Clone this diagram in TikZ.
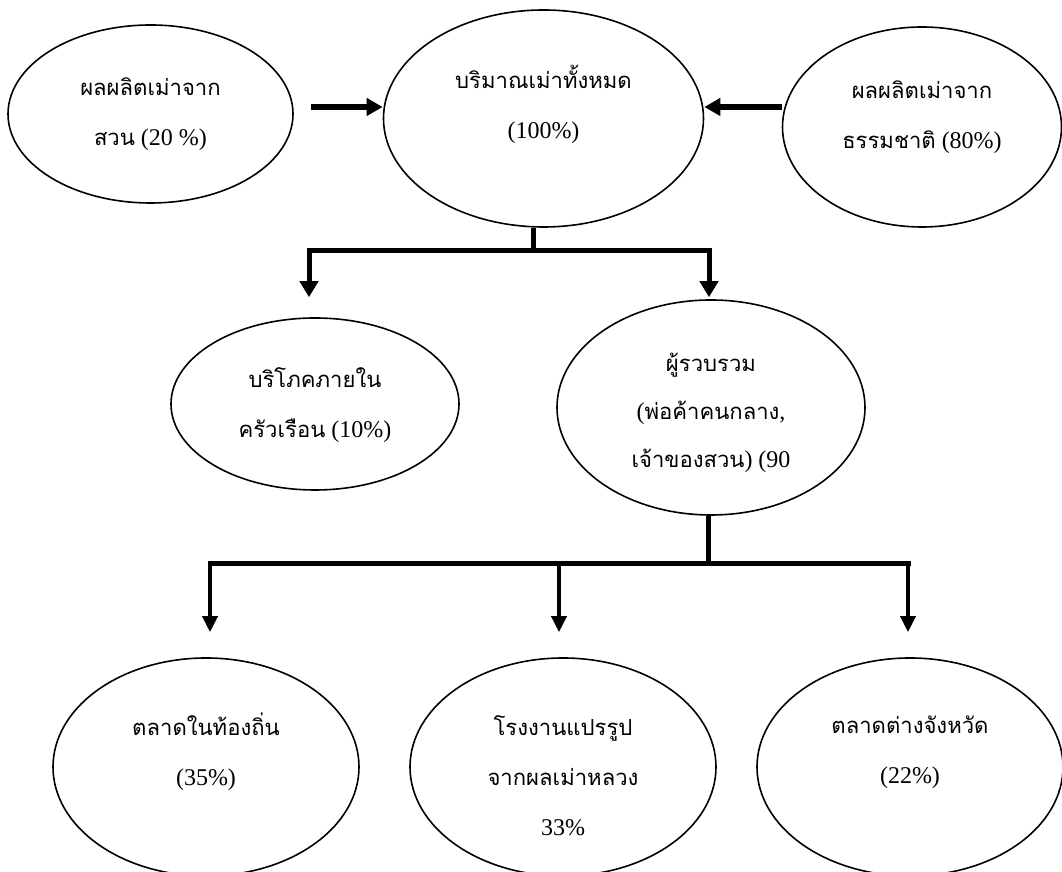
\documentclass[tikz,border=0pt]{standalone}
\usepackage{fontspec}
\setmainfont{Liberation Serif}
\newfontfamily\thaifont[Script=Thai,Scale=0.92]{Loma}
\usetikzlibrary{arrows.meta,shapes.geometric}

\begin{document}
\begin{tikzpicture}[x=0.5pt,y=0.5pt,
    main node/.style={ellipse,draw,line width=0.8pt,inner sep=0pt},
    top node/.style={main node,minimum width=#1},
    text node/.style={align=center,font=\fontsize{12}{25}\selectfont},
    bar/.style={line width=2.5pt,line join=miter},
    flow/.style={line width=3pt,-{Triangle[length=8pt,width=8.5pt]}},
    thin flow/.style={line width=1.8pt,-{Triangle[length=8pt,width=7.5pt]}}]
    \useasboundingbox (0,0) rectangle (1062,872);

    % sources and total
    \node[main node,minimum width=142.5pt,minimum height=89pt] (src1) at (150.5,758) {};
    \node[main node,minimum width=160pt,minimum height=108.5pt] (total) at (543.5,753.5) {};
    \node[main node,minimum width=139.5pt,minimum height=100pt] (src2) at (922,745) {};
    % second level
    \node[main node,minimum width=144pt,minimum height=86pt] (home) at (315,468) {};
    \node[main node,minimum width=154pt,minimum height=107.5pt] (coll) at (711,464.5) {};
    % markets
    \node[main node,minimum width=153pt,minimum height=109pt] (local) at (206,105) {};
    \node[main node,minimum width=153pt,minimum height=109pt] (factory) at (563,105) {};
    \node[main node,minimum width=153pt,minimum height=109pt] (prov) at (910,105) {};

    \node[text node] (src1txt) at (src1) {{\thaifont ผลผลิตเม่าจาก}\\{\thaifont สวน} (20 \%)};
    \node[text node] (totaltxt) at ([yshift=7pt]total) {{\thaifont บริมาณเม่าทั้งหมด}\\(100\%)};
    \node[text node] (src2txt) at ([yshift=5pt]src2) {{\thaifont ผลผลิตเม่าจาก}\\{\thaifont ธรรมชาติ} (80\%)};
    \node[text node] (hometxt) at ([yshift=-0.5pt]home) {{\thaifont บริโภคภายใน}\\{\thaifont ครัวเรือน} (10\%)};
    \node[text node,font=\fontsize{12}{24}\selectfont] (colltxt) at ([yshift=-2.5pt]coll) {{\thaifont ผู้รวบรวม}\\({\thaifont พ่อค้าคนกลาง},\\{\thaifont เจ้าของสวน}) (90};
    \node[text node] (localtxt) at ([yshift=7.5pt]local) {{\thaifont ตลาดในท้องถิ่น}\\(35\%)};
    \node[text node] (factorytxt) at ([yshift=-4.5pt]factory) {{\thaifont โรงงานแปรรูป}\\{\thaifont จากผลเม่าหลวง}\\33\%};
    \node[text node] (provtxt) at ([yshift=7.5pt]prov) {{\thaifont ตลาดต่างจังหวัด}\\(22\%)};

    % inflows
    \draw[flow] ([xshift=8.5pt,yshift=3.5pt]src1.east) coordinate (in1) -- (in1 -| total.west);
    \draw[flow] ([yshift=10pt]src2.west) coordinate (in2) -- (in2 -| total.east);

    % first split
    \draw[bar] ([xshift=-5pt]total.south) -- ++(0,-23) coordinate (fork1);
    \coordinate (inhome) at ([xshift=-3pt,yshift=10pt]home.north);
    \coordinate (incoll) at ([xshift=-1pt,yshift=1pt]coll.north);
    \draw[bar,{Triangle[length=8pt,width=9pt]}-{Triangle[length=8pt,width=9pt]}] (inhome) |- (fork1) -| (incoll);

    % second split
    \draw[bar] ([xshift=-1.5pt]coll.south) -- ++(0,-48) coordinate (fork2);
    \foreach \n/\dx in {local/2pt,factory/-2pt,prov/-1pt}
        \coordinate (in\n) at ([xshift=\dx,yshift=12.5pt]\n.north);
    \draw[bar,line cap=rect] (inlocal |- fork2) -- (inprov |- fork2);
    \foreach \n in {local,factory,prov}
        \draw[thin flow] (in\n |- fork2) -- (in\n);
\end{tikzpicture}
\end{document}
